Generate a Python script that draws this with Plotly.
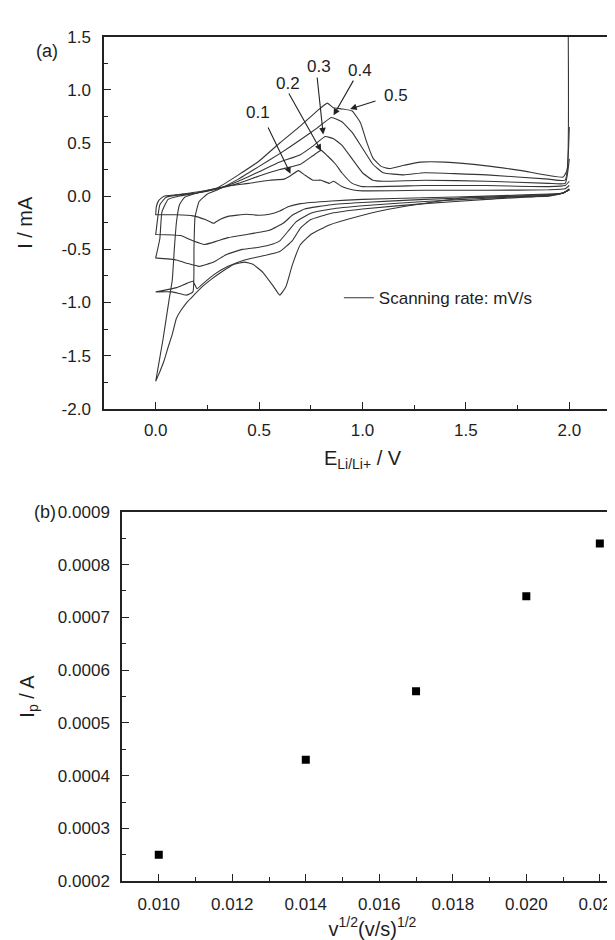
import plotly.graph_objects as go

# ---------------- Panel (a): cyclic voltammograms ----------------
scan_rates = ["0.1", "0.2", "0.3", "0.4", "0.5"]

# cathodic branches (2.0 V -> 0 V)
c1_cat_E = [2.0, 1.97, 1.9, 1.6, 1.3, 1.0, 0.85, 0.7, 0.64, 0.6, 0.55, 0.5, 0.44, 0.35, 0.31, 0.28, 0.24, 0.18, 0.1, 0.0]
c1_cat_I = [0.06, 0.03, 0.02, 0.0, -0.015, -0.03, -0.045, -0.07, -0.1, -0.14, -0.17, -0.18, -0.17, -0.19, -0.22, -0.255, -0.22, -0.185, -0.175, -0.175]
c2_cat_E = [2.0, 1.97, 1.9, 1.6, 1.3, 1.0, 0.85, 0.72, 0.66, 0.62, 0.55, 0.5, 0.44, 0.35, 0.3, 0.235, 0.18, 0.12, 0.0]
c2_cat_I = [0.06, 0.03, 0.015, -0.01, -0.03, -0.06, -0.08, -0.12, -0.18, -0.25, -0.32, -0.34, -0.36, -0.39, -0.42, -0.455, -0.42, -0.37, -0.36]
c3_cat_E = [2.0, 1.97, 1.9, 1.6, 1.3, 1.0, 0.85, 0.75, 0.68, 0.64, 0.6, 0.55, 0.5, 0.42, 0.34, 0.28, 0.21, 0.15, 0.1, 0.0]
c3_cat_I = [0.06, 0.03, 0.01, -0.02, -0.05, -0.09, -0.12, -0.16, -0.24, -0.33, -0.42, -0.46, -0.48, -0.5, -0.55, -0.62, -0.66, -0.63, -0.6, -0.58]
c4_cat_E = [2.0, 1.97, 1.9, 1.6, 1.3, 1.0, 0.85, 0.75, 0.7, 0.66, 0.6, 0.5, 0.43, 0.35, 0.28, 0.23, 0.2, 0.18, 0.15, 0.1, 0.0]
c4_cat_I = [0.06, 0.03, 0.005, -0.03, -0.07, -0.12, -0.16, -0.22, -0.3, -0.42, -0.52, -0.57, -0.6, -0.66, -0.74, -0.82, -0.87, -0.8, -0.82, -0.86, -0.9]
c5_cat_E = [2.0, 1.97, 1.9, 1.52, 1.36, 1.12, 0.96, 0.84, 0.75, 0.7, 0.66, 0.63, 0.6, 0.57, 0.52, 0.47, 0.43, 0.38, 0.32, 0.27, 0.22, 0.17, 0.15, 0.12, 0.1, 0.08, 0.06, 0.04, 0.02, 0.0]
c5_cat_I = [0.07, 0.03, 0.0, -0.01, -0.05, -0.125, -0.2, -0.27, -0.36, -0.455, -0.65, -0.85, -0.93, -0.85, -0.72, -0.64, -0.62, -0.64, -0.71, -0.78, -0.86, -0.96, -1.0, -1.08, -1.15, -1.3, -1.42, -1.55, -1.65, -1.74]

# anodic branches (0 V -> 2.0 V)
c1_an_E = [0.0, 0.003, 0.015, 0.04, 0.09, 0.15, 0.25, 0.36, 0.45, 0.55, 0.62, 0.65, 0.69, 0.72, 0.76, 0.8, 0.84, 0.86, 0.9, 0.95, 1.0, 1.3, 1.6, 1.9, 1.98, 2.0]
c1_an_I = [-0.175, -0.1, -0.04, 0.0, 0.01, 0.025, 0.055, 0.1, 0.12, 0.15, 0.16, 0.19, 0.24, 0.2, 0.15, 0.15, 0.12, 0.14, 0.09, 0.06, 0.05, 0.055, 0.055, 0.06, 0.07, 0.1]
c2_an_E = [0.0, 0.01, 0.02, 0.05, 0.1, 0.2, 0.3, 0.4, 0.5, 0.6, 0.7, 0.76, 0.8, 0.83, 0.87, 0.9, 0.95, 1.0, 1.3, 1.6, 1.9, 1.98, 2.0]
c2_an_I = [-0.36, -0.2, -0.08, -0.01, 0.01, 0.03, 0.07, 0.12, 0.19, 0.25, 0.3, 0.38, 0.43, 0.38, 0.3, 0.22, 0.12, 0.09, 0.1, 0.1, 0.09, 0.1, 0.14]
c3_an_E = [0.0, 0.02, 0.03, 0.06, 0.11, 0.2, 0.3, 0.4, 0.5, 0.6, 0.7, 0.76, 0.82, 0.86, 0.9, 0.95, 1.0, 1.05, 1.1, 1.3, 1.6, 1.9, 1.98, 2.0]
c3_an_I = [-0.58, -0.4, -0.15, -0.03, 0.0, 0.03, 0.07, 0.14, 0.23, 0.32, 0.39, 0.47, 0.56, 0.54, 0.48, 0.35, 0.22, 0.15, 0.14, 0.15, 0.14, 0.12, 0.12, 0.35]
c4_an_E = [0.0, 0.08, 0.15, 0.18, 0.185, 0.19, 0.21, 0.25, 0.3, 0.4, 0.5, 0.6, 0.7, 0.78, 0.85, 0.9, 0.95, 1.0, 1.05, 1.1, 1.2, 1.3, 1.6, 1.9, 1.98, 2.0]
c4_an_I = [-0.9, -0.9, -0.93, -0.9, -0.5, -0.2, -0.05, 0.02, 0.06, 0.16, 0.28, 0.4, 0.53, 0.64, 0.74, 0.7, 0.6, 0.45, 0.3, 0.22, 0.2, 0.22, 0.2, 0.16, 0.15, 0.65]
c5_an_E = [0.0, 0.035, 0.065, 0.08, 0.09, 0.1, 0.115, 0.14, 0.2, 0.3, 0.4, 0.5, 0.6, 0.7, 0.78, 0.83, 0.86, 0.9, 0.95, 0.99, 1.02, 1.05, 1.09, 1.13, 1.2, 1.28, 1.4, 1.6, 1.77, 1.97, 1.99, 1.995]
c5_an_I = [-1.74, -1.35, -0.97, -0.79, -0.5, -0.25, -0.08, -0.01, 0.03, 0.08, 0.2, 0.33, 0.5, 0.66, 0.8, 0.875, 0.83, 0.82, 0.8, 0.69, 0.51, 0.36, 0.28, 0.26, 0.29, 0.32, 0.32, 0.285, 0.24, 0.18, 0.25, 1.5]

cat_E = [c1_cat_E, c2_cat_E, c3_cat_E, c4_cat_E, c5_cat_E]
cat_I = [c1_cat_I, c2_cat_I, c3_cat_I, c4_cat_I, c5_cat_I]
an_E = [c1_an_E, c2_an_E, c3_an_E, c4_an_E, c5_an_E]
an_I = [c1_an_I, c2_an_I, c3_an_I, c4_an_I, c5_an_I]

# arrow labels: text position and arrow tip (data coordinates)
label_text = ["0.1", "0.2", "0.3", "0.4", "0.5"]
label_E = [0.495, 0.64, 0.79, 0.99, 1.16]
label_I = [0.79, 1.06, 1.22, 1.18, 0.95]
tail_E = [0.54, 0.64, 0.78, 0.96, 1.07]
tail_I = [0.66, 0.98, 1.13, 1.10, 0.90]
tip_E = [0.652, 0.80, 0.81, 0.86, 0.94]
tip_I = [0.21, 0.425, 0.58, 0.76, 0.82]

# tick values / labels
a_xticks = [0.0, 0.5, 1.0, 1.5, 2.0]
a_yticks = [-2.0, -1.5, -1.0, -0.5, 0.0, 0.5, 1.0, 1.5]
a_yticklabels = ["-2.0", "-1.5", "-1.0", "-0.5", "0.0", "0.5", "1.0", "1.5"]

# ---------------- Panel (b): peak current vs sqrt(scan rate) ----------------
sqrt_v = [0.010, 0.014, 0.017, 0.020, 0.022]
Ip = [0.00025, 0.00043, 0.00056, 0.00074, 0.00084]

FONT = "Liberation Sans, Arial, sans-serif"
LINE_COLOR = "#353535"
AX_COLOR = "#222222"
TXT = "#1e1e1e"

fig = go.Figure()

for k in range(5):
    fig.add_trace(go.Scatter(
        x=cat_E[k] + an_E[k], y=cat_I[k] + an_I[k],
        mode="lines", line=dict(color=LINE_COLOR, width=1.1, shape="spline", smoothing=0.4),
        name="Scanning rate: mV/s", showlegend=(k == 0), legendgroup="cv",
        xaxis="x", yaxis="y"))

fig.add_trace(go.Scatter(
    x=sqrt_v, y=Ip, mode="markers",
    marker=dict(symbol="square", size=8, color="black"),
    showlegend=False, xaxis="x2", yaxis="y2"))

tickfont = dict(family=FONT, size=17, color=TXT)
titlefont = dict(family=FONT, size=20, color=TXT)

W, H = 615, 940
top_dom_x = [96 / W, 613 / W]
top_dom_y = [1 - 400 / H, 1 - 20 / H]
bot_dom_x = [114 / W, 1.0]
bot_dom_y = [1 - 882 / H, 1 - 505 / H]

common = dict(showline=True, linecolor=AX_COLOR, linewidth=1.5, ticks="inside",
              ticklen=7, tickwidth=1.3, tickcolor=AX_COLOR, showgrid=False,
              zeroline=False, tickfont=tickfont)

fig.update_layout(
    width=W, height=H, plot_bgcolor="white", paper_bgcolor="white",
    margin=dict(l=0, r=0, t=0, b=0),
    font=dict(family=FONT, color=TXT),
    xaxis=dict(domain=top_dom_x, range=[-0.25, 2.25], tickmode="array", tickvals=a_xticks,
               tickformat=".1f", mirror=True, anchor="y",
               minor=dict(ticks="inside", ticklen=4, dtick=0.25, tickcolor=AX_COLOR),
               title=dict(text="E<sub>Li/Li+</sub> / V", font=titlefont, standoff=12),
               ticklabelstandoff=5, **common),
    yaxis=dict(domain=top_dom_y, range=[-2.0, 1.5], tickmode="array", tickvals=a_yticks,
               ticktext=a_yticklabels, mirror=True, anchor="x",
               minor=dict(ticks="inside", ticklen=4, dtick=0.25, tickcolor=AX_COLOR),
               title=dict(text="I / mA", font=titlefont, standoff=24),
               ticklabelstandoff=8, **common),
    xaxis2=dict(domain=bot_dom_x, range=[0.009, 0.02263], tickmode="linear", tick0=0.010, dtick=0.002,
                tickformat=".3f", mirror=True, anchor="y2",
                minor=dict(ticks="inside", ticklen=4, dtick=0.001, tickcolor=AX_COLOR),
                title=dict(text="v<sup>1/2</sup>(v/s)<sup>1/2</sup>", font=titlefont, standoff=8),
                ticklabelstandoff=7, **common),
    yaxis2=dict(domain=bot_dom_y, range=[0.0002, 0.0009], tickmode="linear", tick0=0.0002, dtick=0.0001,
                tickformat=".4f", mirror=False, anchor="x2",
                minor=dict(ticks="inside", ticklen=4, dtick=0.00005, tickcolor=AX_COLOR),
                title=dict(text="I<sub>p</sub> / A", font=titlefont, standoff=18),
                ticklabelstandoff=7, **common),
    legend=dict(x=0.538, y=1 - 287 / H, xanchor="left", yanchor="middle",
                bgcolor="rgba(0,0,0,0)", font=dict(family=FONT, size=17, color=TXT)),
)

# arrows with labels
for t, lx, ly, ax_, ay_, tx, ty in zip(label_text, label_E, label_I, tail_E, tail_I, tip_E, tip_I):
    fig.add_annotation(x=tx, y=ty, ax=ax_, ay=ay_, xref="x", yref="y", axref="x", ayref="y",
                       text="", showarrow=True, arrowhead=2, arrowsize=1.2, arrowwidth=1.1,
                       arrowcolor="#222222")
    fig.add_annotation(x=lx, y=ly, xref="x", yref="y", text=t, showarrow=False,
                       font=dict(family=FONT, size=17, color=TXT))

fig.add_annotation(x=26 / W, y=1 - 22 / H, xref="paper", yref="paper", text="(a)",
                   showarrow=False, font=dict(family=FONT, size=18, color=TXT))
fig.add_annotation(x=24 / W, y=1 - 505 / H, xref="paper", yref="paper", text="(b)",
                   showarrow=False, font=dict(family=FONT, size=18, color=TXT))

fig.write_html("out.html")
